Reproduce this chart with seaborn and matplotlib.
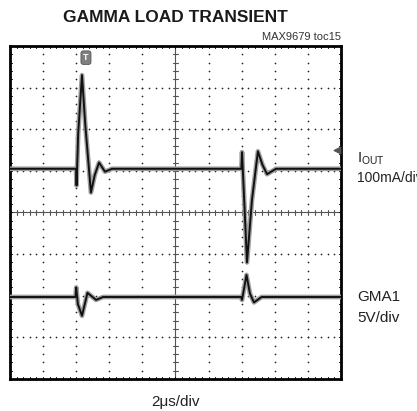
import matplotlib
matplotlib.use("Agg")
import matplotlib.pyplot as plt
import seaborn as sns
import numpy as np

# time in us (2us/div, 10 divisions), amplitude in screen divisions
iout_t = [0.0, 3.99, 4.02, 4.12, 4.35, 4.55, 4.89, 5.12, 5.38, 5.74, 6.16,
          13.98, 14.02, 14.32, 14.62, 14.98, 15.25, 15.53, 16.07, 20.0]
iout_v = [1.05, 1.05, 0.65, 1.9, 3.3, 2.1, 0.48, 0.9, 1.2, 0.98, 1.05,
          1.05, 1.45, -1.2, 0.3, 1.47, 1.15, 0.92, 1.05, 1.05]

gma_t = [0.0, 3.96, 4.0, 4.1, 4.35, 4.68, 5.2, 5.62,
         13.96, 14.02, 14.29, 14.5, 14.74, 15.2, 20.0]
gma_v = [-2.03, -2.03, -1.8, -2.2, -2.48, -1.93, -2.1, -2.03,
         -2.03, -2.1, -1.5, -1.95, -2.16, -2.03, -2.03]

sns.set_style("white")
plt.rcParams["font.family"] = ["Liberation Sans", "DejaVu Sans"]

fig = plt.figure(figsize=(4.17, 4.11), dpi=100)
ax = fig.add_axes([10 / 417, 32 / 411, 331 / 417, 333 / 411])
ax.set_xlim(0, 20)
ax.set_ylim(-4, 4)

# graticule: dotted major lines with dots at each minor step
minor_x = np.arange(0, 20.001, 0.4)
minor_y = np.arange(-4, 4.001, 0.2)
for gx in np.arange(2, 20, 2):
    if gx == 10:
        continue
    ax.scatter(np.full_like(minor_y, gx), minor_y, s=1.5, color="#222", lw=0, zorder=1)
for gy in np.arange(-3, 4, 1):
    if gy == 0:
        continue
    ax.scatter(minor_x, np.full_like(minor_x, gy), s=1.5, color="#222", lw=0, zorder=1)

# center cross with ticks
ax.axhline(0, color="#555", lw=0.8, zorder=1)
ax.axvline(10, color="#555", lw=0.8, zorder=1)
for mx in minor_x:
    ax.plot([mx, mx], [-0.07, 0.07], color="#555", lw=0.8, zorder=1)
    ax.plot([mx, mx], [4, 3.94], color="black", lw=0.7, zorder=1)
    ax.plot([mx, mx], [-4, -3.94], color="black", lw=0.7, zorder=1)
for my in minor_y:
    ax.plot([9.86, 10.14], [my, my], color="#555", lw=0.8, zorder=1)
    ax.plot([0, 0.1], [my, my], color="black", lw=0.7, zorder=1)
    ax.plot([20, 19.9], [my, my], color="black", lw=0.7, zorder=1)

# traces: grey noise band under a dark core
for t, v in [(iout_t, iout_v), (gma_t, gma_v)]:
    sns.lineplot(x=t, y=v, ax=ax, color="#a0a0a0", lw=3.4, sort=False, zorder=3)
    sns.lineplot(x=t, y=v, ax=ax, color="#111111", lw=1.4, sort=False, zorder=4)

# trigger marker and channel marker
ax.text(4.59, 3.72, "T", color="white", fontsize=6.5, fontweight="bold",
        ha="center", va="center", zorder=5,
        bbox=dict(boxstyle="round,pad=0.25", fc="#808080", ec="#555555", lw=0.6))
ax.scatter([19.75], [1.49], marker="<", s=22, color="#555555", zorder=5)

for s in ax.spines.values():
    s.set_linewidth(2)
    s.set_color("black")
ax.set_xticks([])
ax.set_yticks([])

fig.text(175 / 417, 1 - 17 / 411, "GAMMA LOAD TRANSIENT", ha="center", va="center",
         fontsize=12.5, fontweight="bold", color="#1a1a1a")
fig.text(341 / 417, 1 - 37 / 411, "MAX9679 toc15", ha="right", va="center",
         fontsize=8, color="#333")
fig.text(357 / 417, 1 - 159 / 411, r"I$_{\mathregular{OUT}}$", ha="left", va="center",
         fontsize=10.5, color="#222")
fig.text(357 / 417, 1 - 178 / 411, "100mA/div", ha="left", va="center",
         fontsize=10, color="#222")
fig.text(357 / 417, 1 - 297 / 411, "GMA1", ha="left", va="center",
         fontsize=11, color="#222")
fig.text(357 / 417, 1 - 318 / 411, "5V/div", ha="left", va="center",
         fontsize=11, color="#222")
fig.text(175 / 417, 1 - 402 / 411, "2\u03bcs/div", ha="center", va="center",
         fontsize=11, color="#222")

fig.savefig("out.png", dpi=100, facecolor="white")
